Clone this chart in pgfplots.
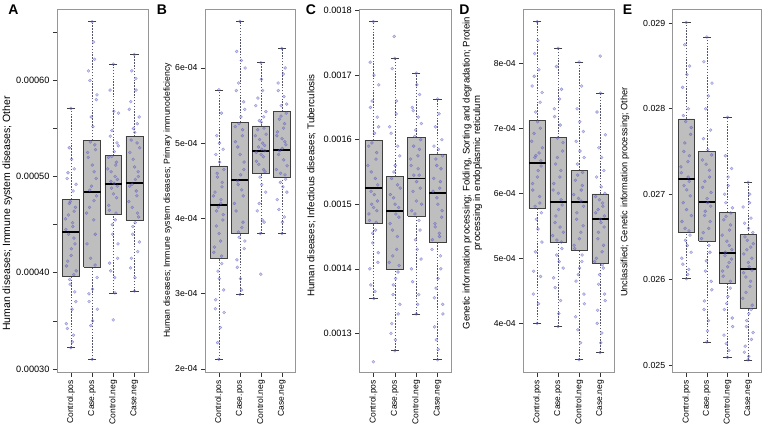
\documentclass[border=0pt]{standalone}
\usepackage{fontspec}
\setmainfont{Liberation Sans}
\usepackage{pgfplots}
\pgfplotsset{compat=1.18}

\definecolor{boxgray}{RGB}{190,190,190}
\definecolor{ptcol}{RGB}{90,90,195}
\definecolor{framegray}{RGB}{150,150,150}
\definecolor{wskcol}{RGB}{85,85,110}

\newcommand\fz[1]{\fontsize{#1bp}{10.5bp}\selectfont}

\pgfplotsset{
  panel/.style={
    scale only axis, height=363.4bp, anchor=south west,
    xmin=0.34, xmax=4.66,
    xtick={1,2,3,4}, xticklabels={Control.pos,Case.pos,Control.neg,Case.neg},
    tick pos=left, tick align=outside, major tick length=4bp,
    axis line style={framegray, line width=0.6bp},
    every tick/.style={black!80, line width=0.5bp},
    xticklabel style={rotate=90, anchor=east, font=\fz{8.5}},
    scaled y ticks=false,
    every axis y label/.style={rotate=90, anchor=center, align=center},
  },
  wsk/.style={draw=wskcol, dash pattern=on 1.5bp off 1.4bp, line width=0.5bp},
}

% position, box left, box right, lower whisker, Q1, median, Q3, upper whisker
\newcommand\bx[8]{%
\addplot[wsk] coordinates {(#1,#4)(#1,#5)};
\addplot[wsk] coordinates {(#1,#7)(#1,#8)};
\addplot[only marks, mark=-, mark size=4.2bp, mark options={draw=black!75, solid, line width=0.6bp}] coordinates {(#1,#4)(#1,#8)};
\addplot[draw=black!75, fill=boxgray, line width=0.5bp] coordinates {(#2,#5)(#3,#5)(#3,#7)(#2,#7)(#2,#5)};
\addplot[draw=black, line width=1.8bp] coordinates {(#2,#6)(#3,#6)};
}
\newcommand\pts[1]{\addplot[only marks, mark=*, mark size=1.5bp, mark options={draw=ptcol, fill=ptcol, draw opacity=0.55, fill opacity=0.3, line width=0.4bp}] coordinates {#1};}

\begin{document}
\begin{tikzpicture}
\useasboundingbox (0,0) rectangle (762bp,428bp);

% ---------------- A
\begin{axis}[panel, at={(57bp,55.3bp)}, width=91.3bp,
  ymin=0.000296, ymax=0.000674,
  ytick={0.0003,0.00035,0.0004,0.00045,0.0005,0.00055,0.0006,0.00065},
  yticklabels={0.00030,,0.00040,,0.00050,,0.00060,},
  yticklabel style={font=\fz{9.2}},
  ylabel={Human diseases; Immune system diseases; Other},
  ylabel style={font=\fz{10.5}, at={([xshift=-49.5bp]rel axis cs:0,0.438)}}]
\bx{1}{0.6}{1.4}{3.22e-4}{3.965e-4}{4.42e-4}{4.765e-4}{5.71e-4}
\bx{2}{1.6}{2.4}{3.10e-4}{4.06e-4}{4.84e-4}{5.38e-4}{6.61e-4}
\bx{3}{2.6}{3.4}{3.79e-4}{4.61e-4}{4.92e-4}{5.22e-4}{6.17e-4}
\bx{4}{3.6}{4.4}{3.81e-4}{4.55e-4}{4.93e-4}{5.42e-4}{6.27e-4}
\pts{(1.00,3.22e-4)(1.12,3.35e-4)(0.78,3.47e-4)(1.05,3.62e-4)(1.18,3.80e-4)(0.94,3.93e-4)(1.25,4.02e-4)(0.85,4.12e-4)(1.02,4.25e-4)(1.14,4.36e-4)(0.76,4.45e-4)(1.08,4.52e-4)(0.88,4.60e-4)(1.21,4.68e-4)(0.97,4.74e-4)(1.10,4.85e-4)(0.82,4.98e-4)(1.16,5.08e-4)(0.92,5.30e-4)(1.00,5.71e-4)}
\pts{(1.07,3.28e-4)(0.83,3.42e-4)(1.23,3.70e-4)(0.96,3.88e-4)(1.13,3.98e-4)(0.79,4.07e-4)(1.01,4.18e-4)(1.19,4.30e-4)(0.89,4.40e-4)(1.09,4.48e-4)(0.74,4.56e-4)(1.15,4.64e-4)(0.93,4.72e-4)(1.24,4.92e-4)(0.86,5.04e-4)(1.03,5.18e-4)}
\pts{(2.00,3.10e-4)(1.94,3.45e-4)(2.25,3.62e-4)(1.85,3.78e-4)(2.02,3.83e-4)(2.14,4.08e-4)(1.76,4.30e-4)(2.08,4.55e-4)(1.88,4.68e-4)(2.21,4.80e-4)(1.97,4.90e-4)(2.10,5.05e-4)(1.82,5.20e-4)(2.16,5.28e-4)(1.92,5.36e-4)(2.04,5.52e-4)(2.20,5.80e-4)(1.90,6.00e-4)(2.12,6.22e-4)(2.00,6.61e-4)}
\pts{(2.03,3.50e-4)(1.86,3.70e-4)(2.24,3.95e-4)(1.93,4.15e-4)(2.15,4.40e-4)(1.74,4.62e-4)(2.09,4.75e-4)(1.89,4.86e-4)(2.19,4.98e-4)(2.01,5.12e-4)(1.79,5.25e-4)(2.13,5.33e-4)(1.96,5.62e-4)(2.23,5.85e-4)(1.83,6.10e-4)(2.07,6.40e-4)}
\pts{(3.00,3.51e-4)(3.08,3.79e-4)(2.88,4.02e-4)(3.21,4.15e-4)(2.97,4.40e-4)(3.10,4.55e-4)(2.82,4.65e-4)(3.16,4.78e-4)(2.92,4.88e-4)(3.04,4.93e-4)(3.20,4.97e-4)(2.90,5.05e-4)(3.12,5.12e-4)(2.78,5.20e-4)(3.05,5.26e-4)(3.18,5.35e-4)(2.94,5.48e-4)(3.25,5.66e-4)(2.85,5.90e-4)(3.00,6.17e-4)}
\pts{(3.07,3.95e-4)(2.83,4.10e-4)(3.23,4.30e-4)(2.96,4.50e-4)(3.13,4.62e-4)(2.79,4.70e-4)(3.01,4.82e-4)(3.19,4.90e-4)(2.89,4.95e-4)(3.09,5.00e-4)(2.74,5.08e-4)(3.15,5.15e-4)(2.93,5.21e-4)(3.24,5.32e-4)(2.86,5.42e-4)(3.03,5.68e-4)}
\pts{(4.00,3.81e-4)(3.82,4.05e-4)(4.16,4.22e-4)(3.92,4.40e-4)(4.04,4.52e-4)(4.20,4.58e-4)(3.90,4.68e-4)(4.12,4.80e-4)(3.78,4.90e-4)(4.05,4.97e-4)(4.18,5.05e-4)(3.94,5.18e-4)(4.25,5.30e-4)(3.85,5.38e-4)(4.02,5.46e-4)(4.14,5.55e-4)(3.76,5.70e-4)(4.08,5.90e-4)(3.88,6.10e-4)(4.00,6.27e-4)}
\pts{(4.03,3.95e-4)(3.86,4.15e-4)(4.24,4.32e-4)(3.93,4.48e-4)(4.15,4.62e-4)(3.74,4.74e-4)(4.09,4.85e-4)(3.89,4.92e-4)(4.19,5.00e-4)(4.01,5.10e-4)(3.79,5.25e-4)(4.13,5.35e-4)(3.96,5.50e-4)(4.23,5.62e-4)(3.83,5.78e-4)(4.07,6.02e-4)}
\end{axis}

% ---------------- B
\begin{axis}[panel, at={(205bp,55.3bp)}, width=90.7bp,
  ymin=0.000195, ymax=0.000678,
  ytick={2e-4,3e-4,4e-4,5e-4,6e-4},
  yticklabels={2e-04,3e-04,4e-04,5e-04,6e-04},
  yticklabel style={font=\fz{8.7}},
  ylabel={Human diseases; Immune system diseases; Primary immunodeficiency},
  ylabel style={font=\fz{8.7}, at={([xshift=-37.5bp]rel axis cs:0,0.475)}}]
\bx{1}{0.6}{1.4}{2.13e-4}{3.47e-4}{4.18e-4}{4.70e-4}{5.71e-4}
\bx{2}{1.6}{2.4}{2.99e-4}{3.80e-4}{4.51e-4}{5.28e-4}{6.62e-4}
\bx{3}{2.6}{3.4}{3.80e-4}{4.60e-4}{4.90e-4}{5.23e-4}{6.07e-4}
\bx{4}{3.6}{4.4}{3.80e-4}{4.55e-4}{4.91e-4}{5.42e-4}{6.26e-4}
\pts{(1.00,2.13e-4)(0.94,2.35e-4)(1.25,2.75e-4)(0.85,2.92e-4)(1.02,3.20e-4)(1.14,3.40e-4)(0.76,3.55e-4)(1.08,3.70e-4)(0.88,3.90e-4)(1.21,4.05e-4)(0.97,4.15e-4)(1.10,4.25e-4)(0.82,4.35e-4)(1.16,4.48e-4)(0.92,4.60e-4)(1.04,4.75e-4)(1.20,4.92e-4)(0.90,5.10e-4)(1.12,5.40e-4)(1.00,5.71e-4)}
\pts{(1.07,2.55e-4)(0.83,2.80e-4)(1.23,3.05e-4)(0.96,3.30e-4)(1.13,3.50e-4)(0.79,3.62e-4)(1.01,3.80e-4)(1.19,3.98e-4)(0.89,4.10e-4)(1.09,4.20e-4)(0.74,4.30e-4)(1.15,4.42e-4)(0.93,4.55e-4)(1.24,4.65e-4)(0.86,4.85e-4)(1.03,5.00e-4)}
\pts{(2.00,2.99e-4)(2.08,3.05e-4)(1.88,3.35e-4)(2.21,3.60e-4)(1.97,3.75e-4)(2.10,3.88e-4)(1.82,4.10e-4)(2.16,4.30e-4)(1.92,4.45e-4)(2.04,4.58e-4)(2.20,4.75e-4)(1.90,4.95e-4)(2.12,5.10e-4)(1.78,5.22e-4)(2.05,5.35e-4)(2.18,5.55e-4)(1.94,5.80e-4)(2.25,6.00e-4)(1.85,6.22e-4)(2.00,6.62e-4)}
\pts{(2.03,3.20e-4)(1.86,3.45e-4)(2.24,3.70e-4)(1.93,3.82e-4)(2.15,3.95e-4)(1.74,4.20e-4)(2.09,4.38e-4)(1.89,4.50e-4)(2.19,4.65e-4)(2.01,4.85e-4)(1.79,5.02e-4)(2.13,5.18e-4)(1.96,5.26e-4)(2.23,5.45e-4)(1.83,5.70e-4)(2.07,6.10e-4)}
\pts{(3.00,3.26e-4)(2.98,3.80e-4)(3.16,3.95e-4)(2.92,4.20e-4)(3.04,4.45e-4)(3.20,4.62e-4)(2.90,4.72e-4)(3.12,4.82e-4)(2.78,4.88e-4)(3.05,4.92e-4)(3.18,4.97e-4)(2.94,5.05e-4)(3.25,5.12e-4)(2.85,5.18e-4)(3.02,5.28e-4)(3.14,5.35e-4)(2.76,5.50e-4)(3.08,5.70e-4)(3.00,6.07e-4)}
\pts{(3.07,3.98e-4)(2.83,4.10e-4)(3.23,4.35e-4)(2.96,4.55e-4)(3.13,4.65e-4)(2.79,4.76e-4)(3.01,4.85e-4)(3.19,4.90e-4)(2.89,4.95e-4)(3.09,5.00e-4)(2.74,5.10e-4)(3.15,5.20e-4)(2.93,5.30e-4)(3.24,5.42e-4)(2.86,5.60e-4)(3.03,5.85e-4)}
\pts{(4.00,3.80e-4)(4.12,4.02e-4)(3.78,4.25e-4)(4.05,4.42e-4)(4.18,4.52e-4)(3.94,4.60e-4)(4.25,4.70e-4)(3.85,4.85e-4)(4.02,4.93e-4)(4.14,5.02e-4)(3.76,5.10e-4)(4.08,5.20e-4)(3.88,5.32e-4)(4.21,5.40e-4)(3.97,5.50e-4)(4.10,5.62e-4)(3.82,5.80e-4)(4.16,6.00e-4)(4.00,6.26e-4)}
\pts{(4.03,3.95e-4)(3.86,4.12e-4)(4.24,4.35e-4)(3.93,4.48e-4)(4.15,4.58e-4)(3.74,4.65e-4)(4.09,4.78e-4)(3.89,4.90e-4)(4.19,4.98e-4)(4.01,5.06e-4)(3.79,5.15e-4)(4.13,5.26e-4)(3.96,5.36e-4)(4.23,5.52e-4)(3.83,5.70e-4)(4.07,5.92e-4)}
\end{axis}

% ---------------- C
\begin{axis}[panel, at={(359.3bp,55.3bp)}, width=92.4bp,
  ymin=0.001239, ymax=0.001802,
  ytick={0.0013,0.0014,0.0015,0.0016,0.0017,0.0018},
  yticklabels={0.0013,0.0014,0.0015,0.0016,0.0017,0.0018},
  yticklabel style={font=\fz{9.2}},
  ylabel={Human diseases; Infectious diseases; Tuberculosis},
  ylabel style={font=\fz{9.8}, at={([xshift=-47.8bp]rel axis cs:0,0.515)}}]
\bx{1}{0.6}{1.4}{1.354e-3}{1.470e-3}{1.525e-3}{1.599e-3}{1.783e-3}
\bx{2}{1.6}{2.4}{1.273e-3}{1.400e-3}{1.490e-3}{1.543e-3}{1.726e-3}
\bx{3}{2.6}{3.4}{1.330e-3}{1.482e-3}{1.540e-3}{1.603e-3}{1.703e-3}
\bx{4}{3.6}{4.4}{1.259e-3}{1.441e-3}{1.518e-3}{1.578e-3}{1.663e-3}
\pts{(1.00,1.256e-3)(1.02,1.354e-3)(0.88,1.375e-3)(1.21,1.41e-3)(0.97,1.44e-3)(1.10,1.46e-3)(0.82,1.475e-3)(1.16,1.49e-3)(0.92,1.50e-3)(1.04,1.515e-3)(1.20,1.53e-3)(0.90,1.55e-3)(1.12,1.57e-3)(0.78,1.59e-3)(1.05,1.61e-3)(1.18,1.635e-3)(0.94,1.66e-3)(1.25,1.685e-3)(0.85,1.72e-3)(1.00,1.783e-3)}
\pts{(1.07,1.365e-3)(0.83,1.40e-3)(1.23,1.425e-3)(0.96,1.455e-3)(1.13,1.472e-3)(0.79,1.485e-3)(1.01,1.495e-3)(1.19,1.505e-3)(0.89,1.52e-3)(1.09,1.54e-3)(0.74,1.56e-3)(1.15,1.58e-3)(0.93,1.595e-3)(1.24,1.62e-3)(0.86,1.65e-3)(1.03,1.70e-3)}
\pts{(2.00,1.273e-3)(1.82,1.30e-3)(2.16,1.33e-3)(1.92,1.36e-3)(2.04,1.385e-3)(2.20,1.405e-3)(1.90,1.42e-3)(2.12,1.45e-3)(1.78,1.47e-3)(2.05,1.485e-3)(2.18,1.495e-3)(1.94,1.51e-3)(2.25,1.525e-3)(1.85,1.54e-3)(2.02,1.56e-3)(2.14,1.59e-3)(1.76,1.62e-3)(2.08,1.66e-3)(1.88,1.71e-3)(2.00,1.726e-3)(1.97,1.760e-3)}
\pts{(2.03,1.29e-3)(1.86,1.315e-3)(2.24,1.345e-3)(1.93,1.375e-3)(2.15,1.395e-3)(1.74,1.41e-3)(2.09,1.43e-3)(1.89,1.46e-3)(2.19,1.48e-3)(2.01,1.50e-3)(1.79,1.515e-3)(2.13,1.53e-3)(1.96,1.55e-3)(2.23,1.575e-3)(1.83,1.61e-3)(2.07,1.64e-3)}
\pts{(3.00,1.330e-3)(3.12,1.36e-3)(2.78,1.40e-3)(3.05,1.43e-3)(3.18,1.46e-3)(2.94,1.485e-3)(3.25,1.50e-3)(2.85,1.52e-3)(3.02,1.535e-3)(3.14,1.545e-3)(2.76,1.56e-3)(3.08,1.575e-3)(2.88,1.59e-3)(3.21,1.60e-3)(2.97,1.615e-3)(3.10,1.635e-3)(2.82,1.65e-3)(3.16,1.67e-3)(3.00,1.703e-3)}
\pts{(3.07,1.345e-3)(2.83,1.38e-3)(3.23,1.415e-3)(2.96,1.445e-3)(3.13,1.475e-3)(2.79,1.49e-3)(3.01,1.505e-3)(3.19,1.525e-3)(2.89,1.545e-3)(3.09,1.555e-3)(2.74,1.57e-3)(3.15,1.585e-3)(2.93,1.605e-3)(3.24,1.625e-3)(2.86,1.645e-3)(3.03,1.685e-3)}
\pts{(4.00,1.259e-3)(3.94,1.29e-3)(4.25,1.33e-3)(3.85,1.355e-3)(4.02,1.385e-3)(4.14,1.42e-3)(3.76,1.445e-3)(4.08,1.455e-3)(3.88,1.47e-3)(4.21,1.49e-3)(3.97,1.51e-3)(4.10,1.525e-3)(3.82,1.54e-3)(4.16,1.555e-3)(3.92,1.57e-3)(4.04,1.585e-3)(4.20,1.60e-3)(3.90,1.62e-3)(4.00,1.663e-3)}
\pts{(4.03,1.275e-3)(3.86,1.31e-3)(4.24,1.345e-3)(3.93,1.37e-3)(4.15,1.40e-3)(3.74,1.43e-3)(4.09,1.45e-3)(3.89,1.465e-3)(4.19,1.48e-3)(4.01,1.50e-3)(3.79,1.52e-3)(4.13,1.535e-3)(3.96,1.56e-3)(4.23,1.575e-3)(3.83,1.59e-3)(4.07,1.64e-3)}
\end{axis}

% ---------------- D
\begin{axis}[panel, at={(523.3bp,55.3bp)}, width=90.7bp,
  ymin=0.000324, ymax=0.000883,
  ytick={4e-4,5e-4,6e-4,7e-4,8e-4},
  yticklabels={4e-04,5e-04,6e-04,7e-04,8e-04},
  yticklabel style={font=\fz{8.6}},
  ylabel={Genetic information processing; Folding, Sorting and degradation; Protein\\processing in endoplasmic reticulum},
  ylabel style={font=\fz{9.6}, at={([xshift=-50.8bp]rel axis cs:0,0.5495)}}]
\bx{1}{0.6}{1.4}{4.00e-4}{5.77e-4}{6.47e-4}{7.12e-4}{8.64e-4}
\bx{2}{1.6}{2.4}{3.95e-4}{5.24e-4}{5.87e-4}{6.86e-4}{8.23e-4}
\bx{3}{2.6}{3.4}{3.44e-4}{5.13e-4}{5.86e-4}{6.35e-4}{8.02e-4}
\bx{4}{3.6}{4.4}{3.55e-4}{4.93e-4}{5.61e-4}{5.99e-4}{7.54e-4}
\pts{(1.00,4.00e-4)(0.82,4.45e-4)(1.16,4.72e-4)(0.92,5.10e-4)(1.04,5.45e-4)(1.20,5.70e-4)(0.90,5.80e-4)(1.12,5.95e-4)(0.78,6.15e-4)(1.05,6.35e-4)(1.18,6.50e-4)(0.94,6.58e-4)(1.25,6.70e-4)(0.85,6.92e-4)(1.02,7.10e-4)(1.14,7.40e-4)(0.76,7.65e-4)(1.08,7.90e-4)(0.88,8.15e-4)(1.00,8.64e-4)}
\pts{(1.07,4.30e-4)(0.83,4.80e-4)(1.23,5.25e-4)(0.96,5.60e-4)(1.13,5.85e-4)(0.79,6.05e-4)(1.01,6.25e-4)(1.19,6.42e-4)(0.89,6.55e-4)(1.09,6.62e-4)(0.74,6.80e-4)(1.15,7.00e-4)(0.93,7.25e-4)(1.24,7.55e-4)(0.86,7.80e-4)(1.03,8.35e-4)}
\pts{(2.00,3.95e-4)(2.12,4.35e-4)(1.78,4.70e-4)(2.05,4.95e-4)(2.18,5.15e-4)(1.94,5.28e-4)(2.25,5.40e-4)(1.85,5.55e-4)(2.02,5.75e-4)(2.14,5.90e-4)(1.76,6.05e-4)(2.08,6.25e-4)(1.88,6.45e-4)(2.21,6.65e-4)(1.97,6.85e-4)(2.10,7.05e-4)(1.82,7.30e-4)(2.16,7.60e-4)(1.92,7.95e-4)(2.00,8.23e-4)}
\pts{(2.03,4.15e-4)(1.86,4.55e-4)(2.24,4.85e-4)(1.93,5.05e-4)(2.15,5.25e-4)(1.74,5.35e-4)(2.09,5.48e-4)(1.89,5.65e-4)(2.19,5.82e-4)(2.01,6.00e-4)(1.79,6.15e-4)(2.13,6.35e-4)(1.96,6.55e-4)(2.23,6.78e-4)(1.83,7.18e-4)(2.07,7.45e-4)}
\pts{(3.00,3.44e-4)(2.94,3.90e-4)(3.25,4.30e-4)(2.85,4.65e-4)(3.02,4.85e-4)(3.14,5.05e-4)(2.76,5.20e-4)(3.08,5.40e-4)(2.88,5.60e-4)(3.21,5.80e-4)(2.97,5.92e-4)(3.10,6.05e-4)(2.82,6.20e-4)(3.16,6.32e-4)(2.92,6.45e-4)(3.04,6.65e-4)(3.20,6.95e-4)(2.90,7.30e-4)(3.12,7.65e-4)(3.00,8.02e-4)}
\pts{(3.07,3.70e-4)(2.83,4.10e-4)(3.23,4.45e-4)(2.96,4.75e-4)(3.13,4.95e-4)(2.79,5.15e-4)(3.01,5.30e-4)(3.19,5.50e-4)(2.89,5.70e-4)(3.09,5.88e-4)(2.74,5.98e-4)(3.15,6.12e-4)(2.93,6.28e-4)(3.24,6.55e-4)(2.86,6.80e-4)(3.03,7.10e-4)}
\pts{(4.00,3.55e-4)(4.08,3.85e-4)(3.88,4.20e-4)(4.21,4.45e-4)(3.97,4.75e-4)(4.10,4.90e-4)(3.82,5.00e-4)(4.16,5.20e-4)(3.92,5.40e-4)(4.04,5.55e-4)(4.20,5.65e-4)(3.90,5.75e-4)(4.12,5.85e-4)(3.78,5.95e-4)(4.05,6.10e-4)(4.18,6.35e-4)(3.94,6.70e-4)(4.25,6.90e-4)(3.85,7.25e-4)(4.02,7.54e-4)(4.00,8.11e-4)}
\pts{(4.03,3.70e-4)(3.86,4.00e-4)(4.24,4.35e-4)(3.93,4.60e-4)(4.15,4.85e-4)(3.74,4.95e-4)(4.09,5.10e-4)(3.89,5.30e-4)(4.19,5.48e-4)(4.01,5.60e-4)(3.79,5.70e-4)(4.13,5.80e-4)(3.96,5.90e-4)(4.23,6.00e-4)(3.83,6.25e-4)(4.07,6.55e-4)}
\end{axis}

% ---------------- E
\begin{axis}[panel, at={(672.7bp,55.3bp)}, width=89bp,
  ymin=0.02491, ymax=0.029164,
  ytick={0.025,0.026,0.027,0.028,0.029},
  yticklabels={0.025,0.026,0.027,0.028,0.029},
  yticklabel style={font=\fz{8.8}},
  ylabel={Unclassified; Genetic information processing; Other},
  ylabel style={font=\fz{9.2}, at={([xshift=-47.7bp]rel axis cs:0,0.497)}}]
\bx{1}{0.6}{1.4}{0.02601}{0.02655}{0.02718}{0.02788}{0.02901}
\bx{2}{1.6}{2.4}{0.02527}{0.02645}{0.02691}{0.02750}{0.02884}
\bx{3}{2.6}{3.4}{0.02509}{0.02596}{0.02631}{0.02679}{0.02790}
\bx{4}{3.6}{4.4}{0.02506}{0.02566}{0.02612}{0.02653}{0.027144}
\pts{(1.00,0.02601)(1.12,0.02612)(0.78,0.02625)(1.05,0.02640)(1.18,0.02652)(0.94,0.02660)(1.25,0.02675)(0.85,0.02690)(1.02,0.02705)(1.14,0.02715)(0.76,0.02725)(1.08,0.02738)(0.88,0.02750)(1.21,0.02770)(0.97,0.02785)(1.10,0.02800)(0.82,0.02825)(1.16,0.02850)(0.92,0.02875)(1.00,0.02901)}
\pts{(1.07,0.02606)(0.83,0.02618)(1.23,0.02632)(0.96,0.02646)(1.13,0.02657)(0.79,0.02668)(1.01,0.02682)(1.19,0.02698)(0.89,0.02710)(1.09,0.02720)(0.74,0.02732)(1.15,0.02745)(0.93,0.02760)(1.24,0.02778)(0.86,0.02792)(1.03,0.02840)}
\pts{(2.00,0.02527)(2.08,0.02552)(1.88,0.02575)(2.21,0.02598)(1.97,0.02622)(2.10,0.02640)(1.82,0.02655)(2.16,0.02668)(1.92,0.02680)(2.04,0.02690)(2.20,0.02702)(1.90,0.02715)(2.12,0.02728)(1.78,0.02740)(2.05,0.02752)(2.18,0.02775)(1.94,0.02800)(2.25,0.02830)(1.85,0.02855)(2.00,0.02884)}
\pts{(2.03,0.02540)(1.86,0.02565)(2.24,0.02588)(1.93,0.02610)(2.15,0.02632)(1.74,0.02648)(2.09,0.02660)(1.89,0.02675)(2.19,0.02686)(2.01,0.02695)(1.79,0.02708)(2.13,0.02720)(1.96,0.02735)(2.23,0.02746)(1.83,0.02765)(2.07,0.02815)}
\pts{(3.00,0.02509)(2.94,0.02525)(3.25,0.02545)(2.85,0.02565)(3.02,0.02580)(3.14,0.02598)(2.76,0.02610)(3.08,0.02620)(2.88,0.02628)(3.21,0.02635)(2.97,0.02645)(3.10,0.02658)(2.82,0.02670)(3.16,0.02678)(2.92,0.02690)(3.04,0.02710)(3.20,0.02730)(2.90,0.02745)(3.00,0.02790)}
\pts{(3.07,0.02517)(2.83,0.02535)(3.23,0.02555)(2.96,0.02572)(3.13,0.02590)(2.79,0.02604)(3.01,0.02615)(3.19,0.02624)(2.89,0.02632)(3.09,0.02640)(2.74,0.02652)(3.15,0.02664)(2.93,0.02674)(3.24,0.02684)(2.86,0.02700)(3.03,0.02720)}
\pts{(4.00,0.02506)(3.82,0.02515)(4.16,0.02530)(3.92,0.02545)(4.04,0.02560)(4.20,0.02570)(3.90,0.02585)(4.12,0.02598)(3.78,0.02608)(4.05,0.02615)(4.18,0.02625)(3.94,0.02635)(4.25,0.02642)(3.85,0.02650)(4.02,0.02660)(4.14,0.02672)(3.76,0.02685)(4.08,0.02700)(4.00,0.02714)}
\pts{(4.03,0.02510)(3.86,0.02522)(4.24,0.02538)(3.93,0.02552)(4.15,0.02565)(3.74,0.02578)(4.09,0.02592)(3.89,0.02603)(4.19,0.02611)(4.01,0.02620)(3.79,0.02630)(4.13,0.02638)(3.96,0.02646)(4.23,0.02655)(3.83,0.02666)(4.07,0.02690)}
\end{axis}

\begin{scope}[every node/.style={font=\bfseries\fontsize{14bp}{14bp}\selectfont}]
\node at (13.5bp,418.5bp) {A};
\node at (162bp,418.5bp) {B};
\node at (311bp,418.5bp) {C};
\node at (464.5bp,418.5bp) {D};
\node at (627.5bp,418.5bp) {E};
\end{scope}
\end{tikzpicture}
\end{document}
